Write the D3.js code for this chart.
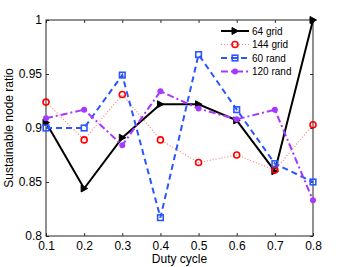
<!DOCTYPE html>
<html>
<head>
<meta charset="utf-8">
<script src="https://cdn.jsdelivr.net/npm/d3@7"></script>
<style>
  body { margin: 0; background: #fff; }
  svg { font-family: "Liberation Sans", Arial, sans-serif; }
</style>
</head>
<body>
<svg id="chart" width="346" height="267"></svg>
<script>
const dutyCycle = [0.1, 0.2, 0.3, 0.4, 0.5, 0.6, 0.7, 0.8];
const grid64 = [0.905, 0.844, 0.891, 0.922, 0.922, 0.907, 0.860, 1.0];
const grid144 = [0.924, 0.889, 0.931, 0.889, 0.868, 0.875, 0.861, 0.903];
const rand60 = [0.900, 0.900, 0.949, 0.817, 0.968, 0.917, 0.867, 0.850];
const rand120 = [0.909, 0.917, 0.884, 0.934, 0.918, 0.908, 0.917, 0.833];
const xTicks = [0.1, 0.2, 0.3, 0.4, 0.5, 0.6, 0.7, 0.8];
const yTicks = [0.8, 0.85, 0.9, 0.95, 1];

let series = [
    {name: '64 grid', values: grid64, color: '#000000', lineColor: '#000000', width: 2, dash: null, marker: 'tri'},
    {name: '144 grid', values: grid144, color: '#ff0000', lineColor: '#ff8080', width: 1.2, dash: '1,2', marker: 'circle'},
    {name: '60 rand', values: rand60, color: '#2a55ff', lineColor: '#2a55ff', width: 2, dash: '6,4', marker: 'square'},
    {name: '120 rand', values: rand120, color: '#a638ff', lineColor: '#a638ff', width: 2, dash: '7,3,2,3', marker: 'dot'}
];

let svg = d3.select('#chart'),
    margin = {top: 20, right: 33, bottom: 31, left: 46},
    width = +svg.attr('width') - margin.left - margin.right,
    height = +svg.attr('height') - margin.top - margin.bottom,
    g = svg.append('g').attr('transform', `translate(${margin.left},${margin.top})`);

let x = d3.scaleLinear().domain([0.1, 0.8]).range([0, width]),
    y = d3.scaleLinear().domain([0.8, 1]).range([height, 0]);

// axes with inner ticks, mirrored on top and right
g.append('g')
    .attr('transform', `translate(0,${height})`)
    .call(d3.axisBottom(x).tickValues(xTicks).tickSize(-3).tickPadding(5).tickFormat(d3.format('.1f')))
    .call(a => a.select('.domain').remove());
g.append('g')
    .call(d3.axisLeft(y).tickValues(yTicks).tickSize(-3).tickPadding(4).tickFormat(d => String(+d.toFixed(2))))
    .call(a => a.select('.domain').remove());
g.append('g')
    .call(d3.axisTop(x).tickValues(xTicks).tickSize(-3).tickFormat(''))
    .call(a => a.select('.domain').remove());
g.append('g')
    .attr('transform', `translate(${width},0)`)
    .call(d3.axisRight(y).tickValues(yTicks).tickSize(-3).tickFormat(''))
    .call(a => a.select('.domain').remove());

g.selectAll('.tick text').style('font-size', '12px').attr('fill', '#000');
g.selectAll('.tick line').attr('stroke', '#333');

g.append('rect')
    .attr('width', width).attr('height', height)
    .attr('fill', 'none').attr('stroke', '#222').attr('stroke-width', 1);

svg.append('text')
    .attr('x', margin.left + width / 2).attr('y', 263)
    .attr('text-anchor', 'middle').style('font-size', '12px')
    .text('Duty cycle');
svg.append('text')
    .attr('transform', `translate(13,${margin.top + height / 2}) rotate(-90)`)
    .attr('text-anchor', 'middle').style('font-size', '12px')
    .text('Sustainable node ratio');

let line = d3.line()
    .x((d, i) => x(dutyCycle[i]))
    .y(d => y(d));

function drawMarker(sel, s, cx, cy) {
    if (s.marker === 'tri') {
        sel.append('path')
            .attr('d', `M${cx - 3},${cy - 3.5}L${cx + 3.5},${cy}L${cx - 3},${cy + 3.5}Z`)
            .attr('fill', '#000').attr('stroke', '#000').attr('stroke-width', 1);
    } else if (s.marker === 'circle') {
        sel.append('circle').attr('cx', cx).attr('cy', cy).attr('r', 3)
            .attr('fill', 'none').attr('stroke', s.color).attr('stroke-width', 1.6);
    } else if (s.marker === 'square') {
        sel.append('rect').attr('x', cx - 2.8).attr('y', cy - 2.8).attr('width', 5.6).attr('height', 5.6)
            .attr('fill', 'none').attr('stroke', s.color).attr('stroke-width', 1.6);
    } else {
        sel.append('circle').attr('cx', cx).attr('cy', cy).attr('r', 3)
            .attr('fill', s.color);
    }
}

series.forEach(s => {
    let sg = g.append('g');
    sg.append('path')
        .attr('d', line(s.values))
        .attr('fill', 'none')
        .attr('stroke', s.lineColor)
        .attr('stroke-width', s.width)
        .attr('stroke-dasharray', s.dash);
    s.values.forEach((v, i) => drawMarker(sg, s, x(dutyCycle[i]), y(v)));
});

// legend
let legend = svg.append('g').attr('transform', 'translate(221,31)');
series.forEach((s, i) => {
    let row = legend.append('g').attr('transform', `translate(0,${i * 13.5})`);
    row.append('line')
        .attr('x1', 0).attr('x2', 28).attr('y1', 0).attr('y2', 0)
        .attr('stroke', s.lineColor).attr('stroke-width', s.width)
        .attr('stroke-dasharray', s.dash);
    drawMarker(row, s, 14, 0);
    row.append('text')
        .attr('x', 31).attr('y', 0).attr('dy', '0.35em')
        .style('font-size', '10px')
        .text(s.name);
});
</script>
</body>
</html>
